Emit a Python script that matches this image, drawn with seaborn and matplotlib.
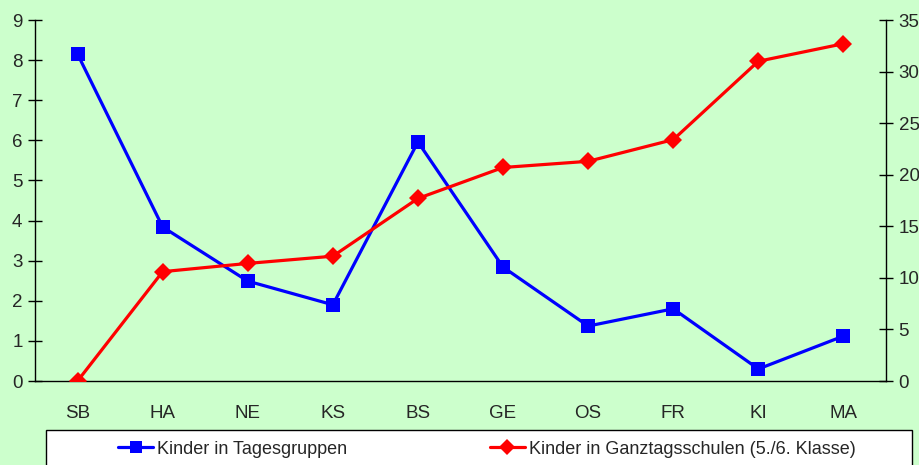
import numpy as np
import pandas as pd
import matplotlib
matplotlib.use('Agg')
import matplotlib.pyplot as plt
import seaborn as sns
from matplotlib.lines import Line2D
from matplotlib.patches import Rectangle

# data
regions = ['SB', 'HA', 'NE', 'KS', 'BS', 'GE', 'OS', 'FR', 'KI', 'MA']
tagesgruppen = [8.15, 3.84, 2.49, 1.90, 5.96, 2.84, 1.37, 1.80, 0.30, 1.12]
ganztag = [0.0, 10.6, 11.4, 12.1, 17.7, 20.7, 21.3, 23.4, 31.0, 32.7]

label_left = 'Kinder in Tagesgruppen'
label_right = 'Kinder in Ganztagsschulen (5./6. Klasse)'

df = pd.DataFrame({'region': regions, 'tg': tagesgruppen, 'gt': ganztag})
df['pos'] = np.arange(len(regions))

sns.set_style('white')
plt.rcParams['font.family'] = ['Liberation Sans', 'DejaVu Sans']
plt.rcParams['font.size'] = 13

bg = '#CCFFCC'
fig = plt.figure(figsize=(9.2, 4.65), dpi=100)
fig.patch.set_facecolor(bg)
ax = fig.add_axes([35 / 920, 1 - 381 / 465, 851 / 920, 361 / 465])
ax.set_facecolor(bg)
ax2 = ax.twinx()

sns.lineplot(data=df, x='pos', y='tg', ax=ax, color='#0000FF', linewidth=2.3,
             marker='s', markersize=9.5, markeredgewidth=0, legend=False)
sns.lineplot(data=df, x='pos', y='gt', ax=ax2, color='#FF0000', linewidth=2.3,
             marker='D', markersize=9, markeredgewidth=0, legend=False)

ax.set_xlim(-0.5, len(regions) - 0.5)
ax.set_ylim(0, 9)
ax2.set_ylim(0, 35)
ax.set_yticks(range(0, 10))
ax2.set_yticks(range(0, 36, 5))

# category boundaries as major ticks, labels centred via minor ticks
ax.set_xticks(np.arange(-0.5, len(regions), 1))
ax.set_xticklabels([])
ax.set_xticks(df['pos'], minor=True)
ax.set_xticklabels(regions, minor=True)
ax.tick_params(axis='x', which='minor', length=0, pad=17, labelsize=13.5)
ax.tick_params(axis='x', which='major', direction='inout', length=10, width=1, color='black')
ax.tick_params(axis='y', direction='inout', length=10, width=1, color='black', pad=4, labelsize=13.5)
ax2.tick_params(axis='y', direction='inout', length=10, width=1, color='black', pad=4, labelsize=13.5)
ax.set_xlabel('')
ax.set_ylabel('')
ax2.set_ylabel('')

for a in (ax, ax2):
    a.spines['top'].set_visible(False)
    for s in ('left', 'right', 'bottom'):
        a.spines[s].set_color('black')
        a.spines[s].set_linewidth(1)
ax.spines['right'].set_visible(False)
ax2.spines['left'].set_visible(False)
ax2.spines['bottom'].set_visible(False)

# legend box at the bottom
fig.patches.append(Rectangle((46 / 920, -0.05), 866 / 920, 0.05 + (465 - 430) / 465,
                             transform=fig.transFigure, facecolor='white',
                             edgecolor='black', linewidth=1, zorder=0))
handles = [
    Line2D([], [], color='#0000FF', linewidth=2.3, marker='s', markersize=8, markeredgewidth=0),
    Line2D([], [], color='#FF0000', linewidth=2.3, marker='D', markersize=8, markeredgewidth=0),
]
fig.legend(handles, [label_left, label_right], ncol=2, frameon=False,
           loc='center left', bbox_to_anchor=(118 / 920, 1 - 449 / 465),
           handlelength=1.94, handletextpad=0.22, columnspacing=7.9,
           borderpad=0, borderaxespad=0, fontsize=13)

fig.savefig('out.png', dpi=100, facecolor=bg)
